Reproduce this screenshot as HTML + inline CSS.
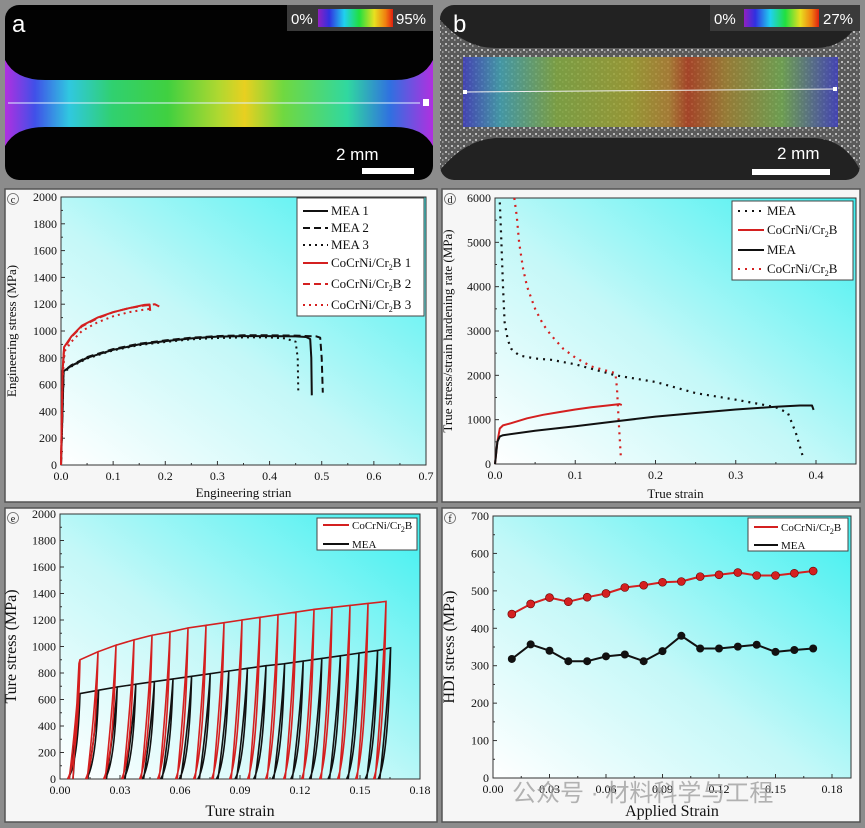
<!DOCTYPE html>
<html><head><meta charset="utf-8"><style>
html,body{margin:0;padding:0;background:#8c8c8c;}
svg{display:block;}
text{font-family:"Liberation Serif","Noto Serif CJK SC",serif;}
</style></head><body>
<svg id="fig" width="865" height="828" viewBox="0 0 865 828" xmlns="http://www.w3.org/2000/svg">
<defs>
<linearGradient id="bgGrad" x1="0" y1="1" x2="1" y2="0">
<stop offset="0" stop-color="#ffffff"/><stop offset="0.45" stop-color="#c4f8f8"/><stop offset="1" stop-color="#3ef0f0"/>
</linearGradient>
<linearGradient id="specA" x1="0" y1="0" x2="1" y2="0">
<stop offset="0" stop-color="#b030e0"/><stop offset="0.07" stop-color="#4050e8"/><stop offset="0.15" stop-color="#30c8e0"/><stop offset="0.25" stop-color="#30d070"/><stop offset="0.38" stop-color="#40d040"/><stop offset="0.5" stop-color="#b0d830"/><stop offset="0.56" stop-color="#e8d020"/><stop offset="0.65" stop-color="#70d840"/><stop offset="0.8" stop-color="#30d8a0"/><stop offset="0.9" stop-color="#3070e0"/><stop offset="1" stop-color="#b030e0"/>
</linearGradient>
<linearGradient id="specB" x1="0" y1="0" x2="1" y2="0">
<stop offset="0" stop-color="#4040c0"/><stop offset="0.1" stop-color="#40a0b0"/><stop offset="0.25" stop-color="#80a840"/><stop offset="0.45" stop-color="#a0a030"/><stop offset="0.55" stop-color="#b08030"/><stop offset="0.6" stop-color="#b04020"/><stop offset="0.7" stop-color="#a08030"/><stop offset="0.85" stop-color="#70a850"/><stop offset="1" stop-color="#4040c0"/>
</linearGradient>
<linearGradient id="cbar" x1="0" y1="0" x2="1" y2="0">
<stop offset="0" stop-color="#9020c0"/><stop offset="0.15" stop-color="#3030e0"/><stop offset="0.35" stop-color="#20d0f0"/><stop offset="0.55" stop-color="#20e040"/><stop offset="0.75" stop-color="#e8e020"/><stop offset="0.9" stop-color="#f08010"/><stop offset="1" stop-color="#e02010"/>
</linearGradient>
<pattern id="speck" width="6" height="6" patternUnits="userSpaceOnUse">
<rect width="6" height="6" fill="#5a5a5a"/><rect x="1" y="1" width="2" height="2" fill="#bbb"/><rect x="4" y="3" width="1.5" height="2" fill="#999"/>
</pattern>
</defs>

<!-- panel a -->
<g>
<rect x="5" y="5" width="428" height="175" rx="14" fill="#020202"/>
<path d="M5,60 Q15,80 45,80 L395,80 Q423,80 433,60 L433,146 Q423,127 395,127 L45,127 Q15,127 5,146 Z" fill="url(#specA)"/>
<line x1="8" y1="103" x2="420" y2="103" stroke="#e0f0ff" stroke-width="1"/>
<rect x="423" y="99" width="6" height="7" fill="#fff"/>
<rect x="287" y="5" width="146" height="26" fill="#3a3a3a"/>
<text x="291" y="24" font-size="15" fill="#fff" style="font-family:'Liberation Sans',sans-serif">0%</text>
<rect x="318" y="9" width="75" height="18" fill="url(#cbar)"/>
<text x="396" y="24" font-size="15" fill="#fff" style="font-family:'Liberation Sans',sans-serif">95%</text>
<text x="12" y="32" font-size="24" fill="#fff" style="font-family:'Liberation Sans',sans-serif">a</text>
<text x="336" y="160" font-size="17" fill="#fff" style="font-family:'Liberation Sans',sans-serif">2 mm</text>
<rect x="362" y="168" width="52" height="6" fill="#fff"/>
</g>

<!-- panel b -->
<g>
<rect x="440" y="5" width="420" height="175" rx="14" fill="#222"/>
<path d="M440,20 Q465,48 495,48 L815,48 Q845,48 860,20 L860,170 Q845,140 815,138 L495,138 Q465,140 440,170 Z" fill="url(#speck)"/>
<rect x="463" y="57" width="375" height="70" fill="url(#specB)" opacity="0.85"/>
<line x1="465" y1="92" x2="836" y2="89" stroke="#eee" stroke-width="1"/>
<rect x="463" y="90" width="4" height="4" fill="#fff"/><rect x="833" y="87" width="4" height="4" fill="#fff"/>
<rect x="710" y="5" width="150" height="26" fill="#3a3a3a"/>
<text x="714" y="24" font-size="15" fill="#fff" style="font-family:'Liberation Sans',sans-serif">0%</text>
<rect x="744" y="9" width="75" height="18" fill="url(#cbar)"/>
<text x="823" y="24" font-size="15" fill="#fff" style="font-family:'Liberation Sans',sans-serif">27%</text>
<text x="453" y="32" font-size="24" fill="#fff" style="font-family:'Liberation Sans',sans-serif">b</text>
<text x="777" y="159" font-size="17" fill="#fff" style="font-family:'Liberation Sans',sans-serif">2 mm</text>
<rect x="752" y="169" width="78" height="6" fill="#fff"/>
</g>

<g id="charts"></g>
<text x="512" y="801" font-size="24" fill="#9a9a9a" opacity="0.75" style="font-family:'Liberation Sans','Noto Sans CJK SC',sans-serif">公众号 · 材料科学与工程</text>
</svg>
<script>
// ---------- data ----------
const cMea1X=[0,0.005,0.02,0.05,0.1,0.15,0.2,0.25,0.3,0.35,0.4,0.45,0.47,0.478,0.48,0.481];
const cMea1Y=[0,700,740,800,860,900,925,945,958,962,962,960,955,940,800,520];
const cMea2X=[0,0.005,0.02,0.05,0.1,0.15,0.2,0.25,0.3,0.35,0.4,0.45,0.49,0.497,0.5,0.502];
const cMea2Y=[0,700,745,805,865,905,930,950,962,968,968,966,960,950,800,540];
const cMea3X=[0,0.005,0.02,0.05,0.1,0.15,0.2,0.25,0.3,0.35,0.4,0.43,0.45,0.454,0.455];
const cMea3Y=[0,690,735,795,855,895,918,938,948,952,952,945,920,800,540];
const cCo1X=[0,0.003,0.006,0.02,0.04,0.07,0.1,0.13,0.16,0.17,0.171];
const cCo1Y=[0,700,880,960,1040,1100,1140,1170,1195,1198,1150];
const cCo2X=[0,0.003,0.006,0.02,0.04,0.07,0.1,0.13,0.16,0.18,0.19];
const cCo2Y=[0,700,870,955,1035,1095,1140,1170,1190,1200,1180];
const cCo3X=[0,0.003,0.007,0.02,0.04,0.07,0.1,0.13,0.16,0.17,0.171];
const cCo3Y=[0,650,850,920,1000,1065,1110,1140,1160,1165,1140];
const dMeaHX=[0.006,0.008,0.01,0.012,0.016,0.02,0.03,0.05,0.07,0.1,0.13,0.15,0.2,0.25,0.3,0.33,0.35,0.365,0.375,0.383];
const dMeaHY=[5900,5000,4000,3200,2800,2600,2450,2380,2350,2250,2100,2000,1850,1600,1450,1350,1280,1150,700,200];
const dCoHX=[0.024,0.027,0.03,0.035,0.04,0.05,0.06,0.07,0.085,0.1,0.12,0.14,0.15,0.152,0.154,0.156,0.157];
const dCoHY=[6000,5600,5000,4400,4000,3500,3150,2900,2600,2400,2200,2100,2050,1700,1000,400,100];
const dCoTX=[0,0.003,0.006,0.01,0.02,0.04,0.06,0.08,0.1,0.12,0.14,0.155,0.158];
const dCoTY=[0,500,800,870,920,1030,1110,1170,1230,1280,1320,1350,1330];
const dMeaTX=[0,0.003,0.006,0.01,0.05,0.1,0.15,0.2,0.25,0.3,0.35,0.38,0.395,0.397];
const dMeaTY=[0,500,620,650,750,850,960,1070,1150,1230,1290,1320,1320,1220];
const ePeakStrain=[0.01,0.019,0.028,0.037,0.046,0.055,0.064,0.073,0.082,0.091,0.1,0.109,0.118,0.127,0.136,0.145,0.154,0.163];
const eRedPeak=[900,960,1010,1050,1085,1110,1140,1160,1180,1200,1220,1240,1260,1280,1295,1310,1325,1340];
const eBlackStrain=[0.01,0.0193,0.0286,0.0379,0.0472,0.0565,0.0658,0.0751,0.0844,0.0937,0.103,0.1123,0.1216,0.1309,0.1402,0.1495,0.1588,0.1653];
const eBlackPeak=[645,670,695,715,735,755,775,795,815,835,855,870,890,910,930,950,970,990];
const fStrain=[0.01,0.02,0.03,0.04,0.05,0.06,0.07,0.08,0.09,0.1,0.11,0.12,0.13,0.14,0.15,0.16,0.17];
const fRed=[438,465,482,471,483,493,509,515,523,525,538,543,549,541,541,547,553];
const fBlack=[318,357,340,312,312,325,330,312,339,380,346,346,351,356,337,342,346];
const cXTicks=["0.0","0.1","0.2","0.3","0.4","0.5","0.6","0.7"];
const cYTicks=[0,200,400,600,800,1000,1200,1400,1600,1800,2000];
const dXTicks=["0.0","0.1","0.2","0.3","0.4"];
const dYTicks=[0,1000,2000,3000,4000,5000,6000];
const eXTicks=["0.00","0.03","0.06","0.09","0.12","0.15","0.18"];
const eYTicks=[0,200,400,600,800,1000,1200,1400,1600,1800,2000];
const fXTicks=["0.00","0.03","0.06","0.09","0.12","0.15","0.18"];
const fYTicks=[0,100,200,300,400,500,600,700];

// ---------- drawing ----------
const NS="http://www.w3.org/2000/svg";
const root=document.getElementById('charts');
function mk(tag,attrs,parent){const e=document.createElementNS(NS,tag);for(const k in attrs)e.setAttribute(k,attrs[k]);(parent||root).appendChild(e);return e;}
function txt(x,y,s,size,anchor,parent,rot){const t=mk('text',{x:x,y:y,'font-size':size,'text-anchor':anchor||'middle',fill:'#111'},parent);if(rot)t.setAttribute('transform','rotate(-90 '+x+' '+y+')');t.textContent=s;return t;}
function scale(d0,d1,p0,p1){return v=>p0+(v-d0)*(p1-p0)/(d1-d0);}

function panel(name,box,pa,xd,yd,xt,yt,xTitle,yTitle,letter,tsz){
  const g=mk('g',{});
  
  
  mk('rect',{x:box[0],y:box[1],width:box[2],height:box[3],fill:'#f6f6f6',stroke:'#555','stroke-width':1.5},g);
  const bg=mk('rect',{x:pa[0],y:pa[1],width:pa[2]-pa[0],height:pa[3]-pa[1],fill:'url(#bgGrad)',stroke:'#333','stroke-width':1},g);
  
  
  const X=scale(xd[0],xd[1],pa[0],xd[2]);const Y=scale(yd[0],yd[1],pa[3],yd[2]);
  const xa=mk('g',{},g);
  
  
  xt.forEach(s=>{const v=parseFloat(s);const px=X(v);mk('line',{x1:px,y1:pa[3],x2:px,y2:pa[3]-4,stroke:'#333'},xa);txt(px,pa[3]+15,s,12,'middle',xa);});
  for(let i=0;i<xt.length-1;i++){const v=(parseFloat(xt[i])+parseFloat(xt[i+1]))/2;mk('line',{x1:X(v),y1:pa[3],x2:X(v),y2:pa[3]-2,stroke:'#333'},xa);}
  const ya=mk('g',{},g);
  
  
  yt.forEach((v,i)=>{const py=Y(v);mk('line',{x1:pa[0],y1:py,x2:pa[0]+4,y2:py,stroke:'#333'},ya);txt(pa[0]-4,py+4,String(v),12,'end',ya);
    if(i<yt.length-1){const m=Y((v+yt[i+1])/2);mk('line',{x1:pa[0],y1:m,x2:pa[0]+2,y2:m,stroke:'#333'},ya);}});
  const xtl=txt((pa[0]+pa[2])/2,xTitle[1],xTitle[0],tsz,'middle',g);
  
  
  const ytl=txt(yTitle[1],(pa[1]+pa[3])/2,yTitle[0],tsz,'middle',g,true);
  
  
  const lt=txt(box[0]+8,box[1]+14,letter,10,'middle',g);
  mk('circle',{cx:box[0]+8,cy:box[1]+10,r:5.5,fill:'none',stroke:'#666','stroke-width':0.8},g);
  
  
  return {g,X,Y};
}
function poly(p,xs,ys,color,dash,w,name){
  const pts=xs.map((x,i)=>p.X(x).toFixed(1)+','+p.Y(ys[i]).toFixed(1)).join(' ');
  const l=mk('polyline',{points:pts,fill:'none',stroke:color,'stroke-width':w||1.8,'stroke-dasharray':dash||'none','stroke-linejoin':'round'},p.g);
  
  
  return l;
}
function legend(p,box,items,size){
  const lg=mk('g',{},p.g);
  
  
  mk('rect',{x:box[0],y:box[1],width:box[2],height:box[3],fill:'#fff',stroke:'#444','stroke-width':1},lg);
  items.forEach(it=>{
    const e=mk('g',{},lg);
    
    
    mk('line',{x1:box[0]+6,y1:it[1],x2:box[0]+box[4],y2:it[1],stroke:it[2],'stroke-width':2,'stroke-dasharray':it[3]||'none'},e);
    const t=mk('text',{x:box[0]+box[4]+3,y:it[1]+4,'font-size':size,fill:'#111'},e);
    t.innerHTML=it[0];
  });
}
const SUB='CoCrNi/Cr<tspan font-size="8" dy="3">2</tspan><tspan dy="-3">B</tspan>';

const pc=panel('panel-c-engineering-stress',[5,189,432,313],[61,197,426,465],[0,0.7,426],[0,2000,197],cXTicks,cYTicks,['Engineering strian',497],['Engineering stress (MPa)',16],'c',13);
poly(pc,cMea1X,cMea1Y,'#111',null,2,'mea-1-line');
poly(pc,cMea2X,cMea2Y,'#111','7,4',2,'mea-2-line');
poly(pc,cMea3X,cMea3Y,'#111','2,4',2,'mea-3-line');
poly(pc,cCo1X,cCo1Y,'#d42020',null,2,'cocrni-1-line');
poly(pc,cCo2X,cCo2Y,'#d42020','7,4',2,'cocrni-2-line');
poly(pc,cCo3X,cCo3Y,'#d42020','2,4',2,'cocrni-3-line');
legend(pc,[297,198,127,118,31],[['MEA 1',211,'#111'],['MEA 2',228,'#111','7,4'],['MEA 3',245,'#111','2,4'],[SUB+' 1',263,'#d42020'],[SUB+' 2',284,'#d42020','7,4'],[SUB+' 3',305,'#d42020','2,4']],13);

const pd=panel('panel-d-hardening-rate',[442,189,418,313],[495,198,856,464],[0,0.4,816],[0,6000,198],dXTicks,dYTicks,['True strain',498],['True stress/strain hardening rate (MPa)',452],'d',13);
poly(pd,dMeaHX,dMeaHY,'#111','2,5',2.2,'mea-hardening-line');
poly(pd,dCoHX,dCoHY,'#d42020','2,5',2.2,'cocrni-hardening-line');
poly(pd,dCoTX,dCoTY,'#d42020',null,2,'cocrni-true-stress-line');
poly(pd,dMeaTX,dMeaTY,'#111',null,2,'mea-true-stress-line');
legend(pd,[732,201,121,79,32],[['MEA',211,'#111','2,5'],[SUB,230,'#d42020'],['MEA',250,'#111'],[SUB,269,'#d42020','2,5']],13);

const pe=panel('panel-e-cyclic-loading',[5,508,432,314],[60,514,420,779],[0,0.18,420],[0,2000,514],eXTicks,eYTicks,['Ture strain',816],['Ture stress (MPa)',16],'e',16);
function cyclic(p,xs,ys,color,name){
  const X=p.X,Y=p.Y,D=0.0062;
  let d='M'+X(xs[0]-0.0035)+','+Y(0)+' L'+X(xs[0]-0.0005)+','+Y(ys[0]*0.97)+' L'+X(xs[0])+','+Y(ys[0]);
  for(let i=0;i<xs.length;i++){
    if(i>0)d+=' L'+X(xs[i])+','+Y(ys[i]);
    const z=xs[i]-D;
    d+=' Q'+X(xs[i]-0.0012)+','+Y(ys[i]*0.15)+' '+X(z)+','+Y(0);
    d+=' M'+X(z+0.0008)+','+Y(0)+' Q'+X(xs[i]-0.0015)+','+Y(ys[i]*0.55)+' '+X(xs[i])+','+Y(ys[i]);
  }
  const pth=mk('path',{d:d,fill:'none',stroke:color,'stroke-width':1.6},p.g);
  
  
}
cyclic(pe,eBlackStrain,eBlackPeak,'#111','mea-cyclic-curve');
cyclic(pe,ePeakStrain,eRedPeak,'#d42020','cocrni-cyclic-curve');
legend(pe,[317,518,100,32,32],[[SUB,525,'#d42020'],['MEA',544,'#111']],11);

const pf=panel('panel-f-hdi-stress',[442,508,418,314],[493,516,851,778],[0,0.18,832],[0,700,516],fXTicks,fYTicks,['Applied Strain',816],['HDI stress (MPa)',454],'f',16);
poly(pf,fStrain,fRed,'#d42020',null,2,'cocrni-hdi-line');
poly(pf,fStrain,fBlack,'#111',null,2,'mea-hdi-line');
fStrain.forEach((s,i)=>{
  const a=mk('circle',{cx:pf.X(s),cy:pf.Y(fRed[i]),r:4,fill:'#d42020',stroke:'#600','stroke-width':0.6},pf.g);
  
  
  const b=mk('circle',{cx:pf.X(s),cy:pf.Y(fBlack[i]),r:4,fill:'#111'},pf.g);
  
  
});
legend(pf,[748,518,100,33,30],[[SUB,527,'#d42020'],['MEA',545,'#111']],11);
</script>
</body></html>
